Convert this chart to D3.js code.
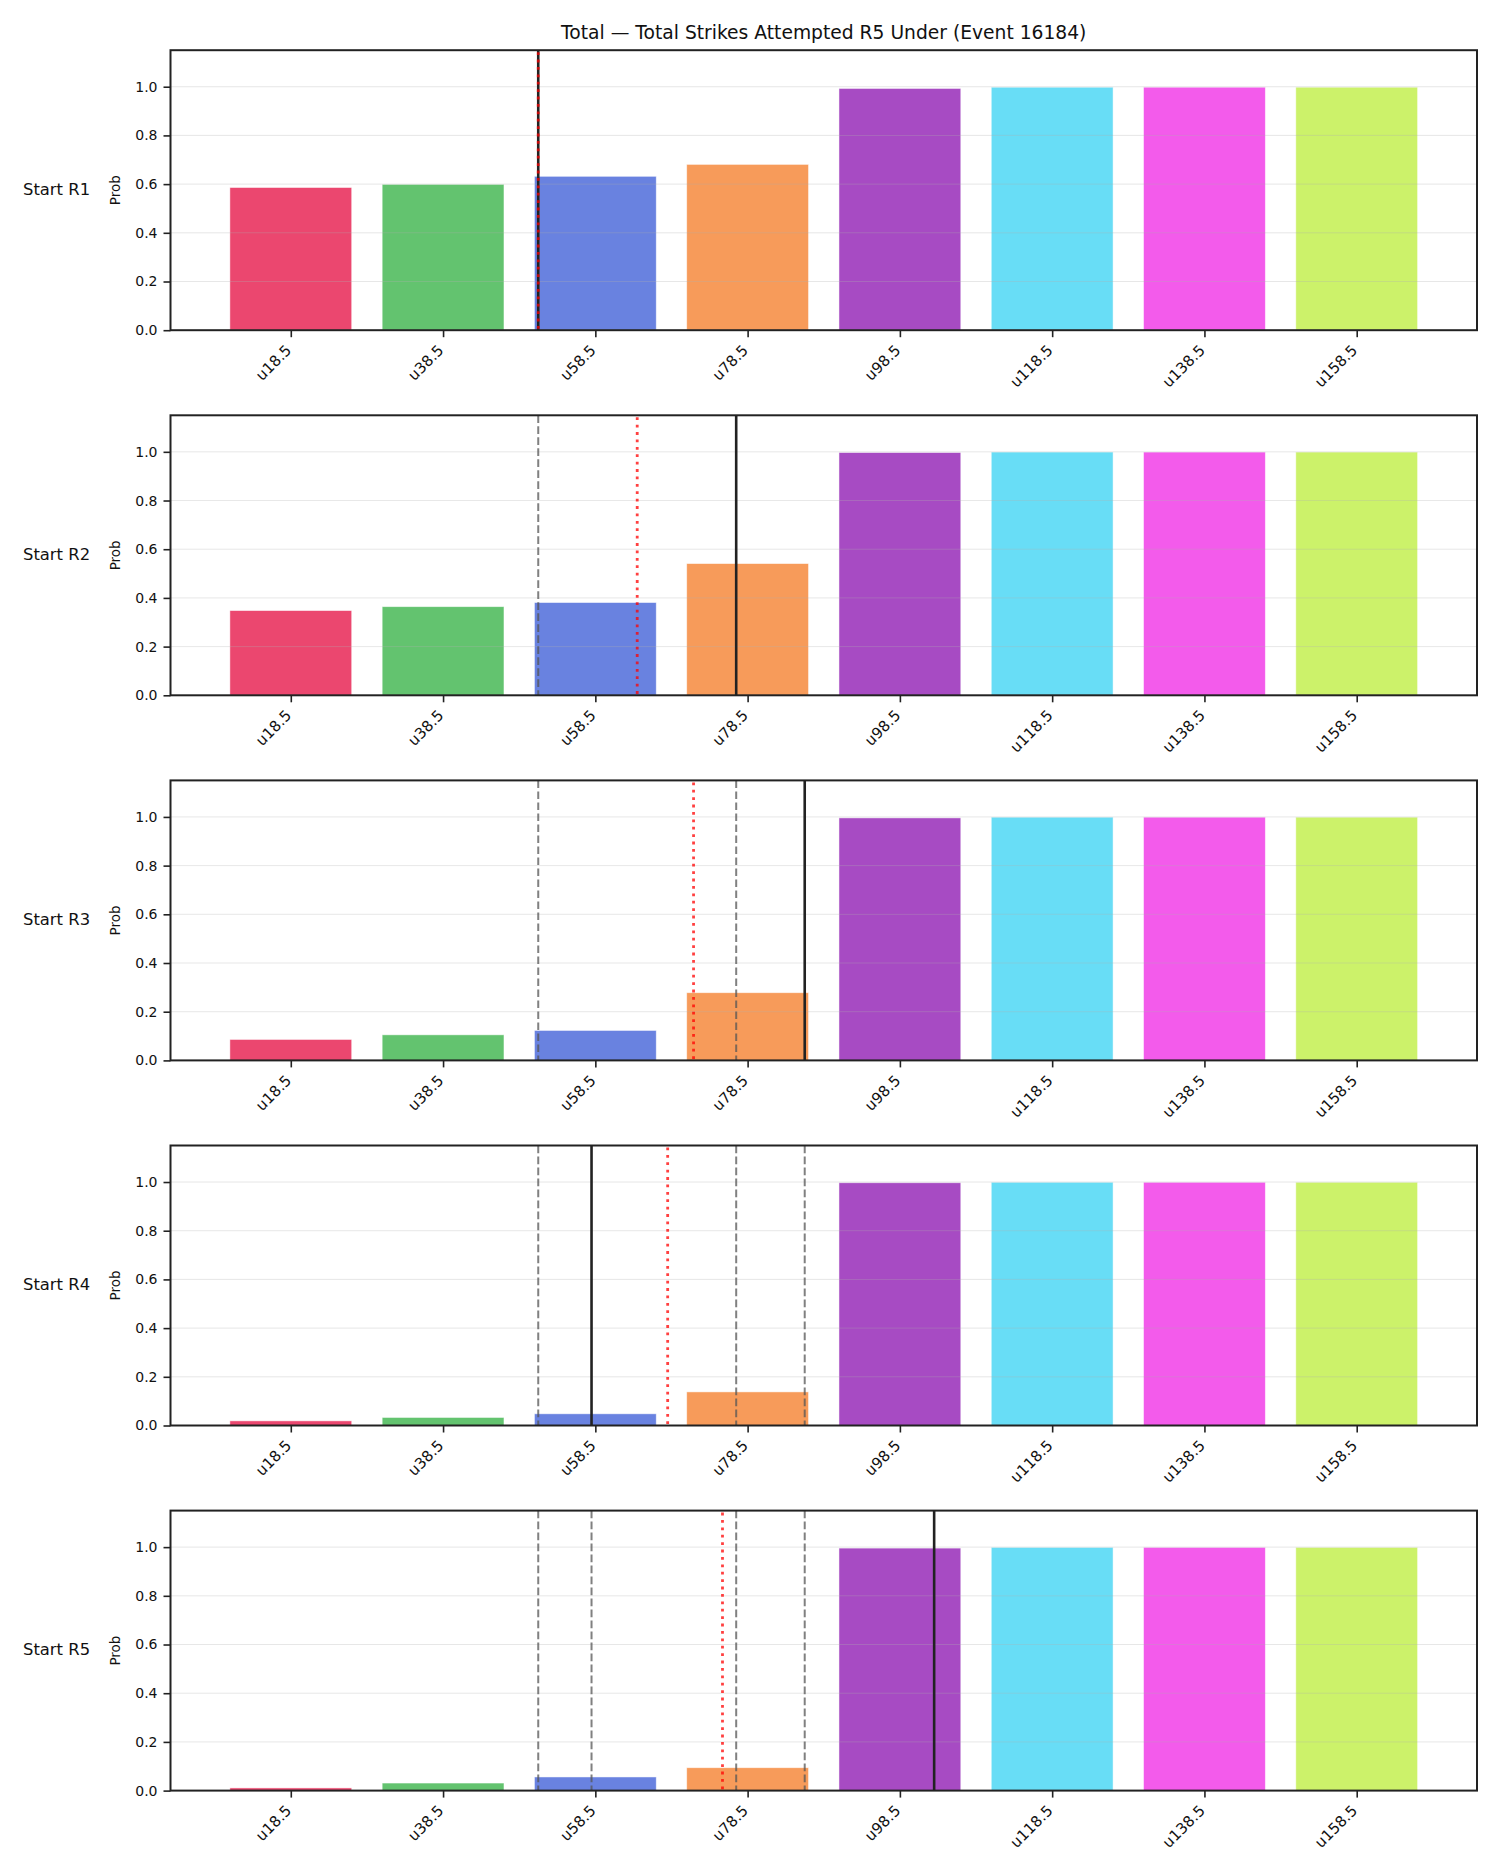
<!DOCTYPE html>
<html>
<head>
<meta charset="utf-8">
<script src="https://cdn.jsdelivr.net/npm/d3@7"></script>
<style>
  body { margin: 0; background: #fff; }
  text { font-family: "DejaVu Sans", sans-serif; fill: #111; }
</style>
</head>
<body>
<script>
// data
var title = 'Total \u2014 Total Strikes Attempted R5 Under (Event 16184)';
var strikes = [18.5, 38.5, 58.5, 78.5, 98.5, 118.5, 138.5, 158.5];
var tickLabels = ['u18.5', 'u38.5', 'u58.5', 'u78.5', 'u98.5', 'u118.5', 'u138.5', 'u158.5'];
var rounds = ['Start R1', 'Start R2', 'Start R3', 'Start R4', 'Start R5'];
var probR1 = [0.586, 0.599, 0.632, 0.681, 0.993, 0.998, 0.998, 0.998];
var probR2 = [0.348, 0.364, 0.381, 0.541, 0.997, 0.999, 0.999, 0.999];
var probR3 = [0.086, 0.105, 0.123, 0.278, 0.996, 0.999, 0.999, 0.999];
var probR4 = [0.019, 0.033, 0.048, 0.138, 0.997, 0.999, 0.999, 0.999];
var probR5 = [0.011, 0.031, 0.056, 0.094, 0.996, 0.999, 0.999, 0.999];
var actual = [51, 77, 86, 58, 103];      // solid black line per round
var expected = [51, 64, 71.4, 68, 75.2]; // red dotted line per round
var yTicks = [0, 0.2, 0.4, 0.6, 0.8, 1.0];
var colors = ['#e6194b', '#3cb44b', '#4363d8', '#f58231', '#911eb4', '#42d4f4', '#f032e6', '#bfef45'];

var probs = [probR1, probR2, probR3, probR4, probR5];

var W = 1500, H = 1875;
var left = 170.5, right = 1477;
var firstTop = 50.2, panelH = 280, step = 365.1;
var step20 = strikes[1] - strikes[0];

var x = d3.scaleLinear()
  .domain([strikes[0] - 0.79 * step20, strikes[strikes.length - 1] + 0.79 * step20])
  .range([left, right]);
var barW = x(strikes[0] + 0.4 * step20) - x(strikes[0] - 0.4 * step20);

var svg = d3.select('body').append('svg')
  .attr('width', W)
  .attr('height', H);

svg.append('text')
  .attr('x', (left + right) / 2)
  .attr('y', 33)
  .attr('text-anchor', 'middle')
  .attr('dominant-baseline', 'middle')
  .style('font-size', '18.7px')
  .text(title);

rounds.forEach(function(name, r) {
  var top = firstTop + r * step;
  var y = d3.scaleLinear().domain([0, 1.15]).range([top + panelH, top]);
  var g = svg.append('g');
  var vals = probs[r];

  // bars
  g.selectAll('rect.bar')
    .data(strikes)
    .enter().append('rect')
      .attr('class', 'bar')
      .attr('x', function(d) { return x(d) - barW / 2; })
      .attr('y', function(d, i) { return y(vals[i]); })
      .attr('width', barW)
      .attr('height', function(d, i) { return y(0) - y(vals[i]); })
      .attr('fill', function(d, i) { return colors[i]; })
      .attr('fill-opacity', 0.8)
      .attr('stroke', '#fff')
      .attr('stroke-opacity', 0.6)
      .attr('stroke-width', 0.8);

  // grid on top, faint
  g.selectAll('line.grid')
    .data(yTicks.slice(1))
    .enter().append('line')
      .attr('x1', left).attr('x2', right)
      .attr('y1', function(d) { return y(d); })
      .attr('y2', function(d) { return y(d); })
      .attr('stroke', '#b0b0b0')
      .attr('stroke-opacity', 0.3)
      .attr('stroke-width', 1);

  // previous rounds' actuals as dashed grey
  g.selectAll('line.prev')
    .data(actual.slice(0, r))
    .enter().append('line')
      .attr('x1', function(d) { return x(d); })
      .attr('x2', function(d) { return x(d); })
      .attr('y1', top).attr('y2', top + panelH)
      .attr('stroke', '#555')
      .attr('stroke-opacity', 0.75)
      .attr('stroke-width', 2)
      .attr('stroke-dasharray', '7.7,3.3');

  g.append('line')
    .attr('x1', x(actual[r])).attr('x2', x(actual[r]))
    .attr('y1', top).attr('y2', top + panelH)
    .attr('stroke', '#222')
    .attr('stroke-width', 2.6);

  g.append('line')
    .attr('x1', x(expected[r])).attr('x2', x(expected[r]))
    .attr('y1', top + 2).attr('y2', top + panelH)
    .attr('stroke', 'red')
    .attr('stroke-opacity', 0.75)
    .attr('stroke-width', 2.8)
    .attr('stroke-dasharray', '2.8,4.6');

  // axes
  var yAxis = g.append('g')
    .attr('transform', 'translate(' + left + ',0)')
    .call(d3.axisLeft(y).tickValues(yTicks).tickFormat(d3.format('.1f')).tickSize(7).tickPadding(6));
  yAxis.select('.domain').remove();
  yAxis.selectAll('.tick line').attr('stroke', '#222').attr('stroke-width', 1.6);
  yAxis.selectAll('.tick text').style('font-size', '14px').style('font-family', 'DejaVu Sans').attr('fill', '#111');

  var xAxis = g.append('g')
    .attr('transform', 'translate(0,' + (top + panelH) + ')')
    .call(d3.axisBottom(x).tickValues(strikes).tickFormat(function(d, i) { return tickLabels[i]; }).tickSize(7));
  xAxis.select('.domain').remove();
  xAxis.selectAll('.tick line').attr('stroke', '#222').attr('stroke-width', 1.6);
  xAxis.selectAll('.tick text')
    .style('font-size', '15px')
    .style('font-family', 'DejaVu Sans')
    .attr('fill', '#111')
    .attr('text-anchor', 'end')
    .attr('dy', null)
    .attr('y', null)
    .attr('transform', 'translate(1,21) rotate(-45)');

  g.append('rect')
    .attr('x', left).attr('y', top)
    .attr('width', right - left).attr('height', panelH)
    .attr('fill', 'none')
    .attr('stroke', '#222')
    .attr('stroke-width', 2);

  g.append('text')
    .attr('transform', 'translate(116,' + (top + panelH / 2) + ') rotate(-90)')
    .attr('text-anchor', 'middle')
    .attr('dominant-baseline', 'middle')
    .style('font-size', '13.5px')
    .text('Prob');

  g.append('text')
    .attr('x', 23)
    .attr('y', top + panelH / 2)
    .attr('dominant-baseline', 'middle')
    .style('font-size', '16.4px')
    .text(name);
});
</script>
</body>
</html>
